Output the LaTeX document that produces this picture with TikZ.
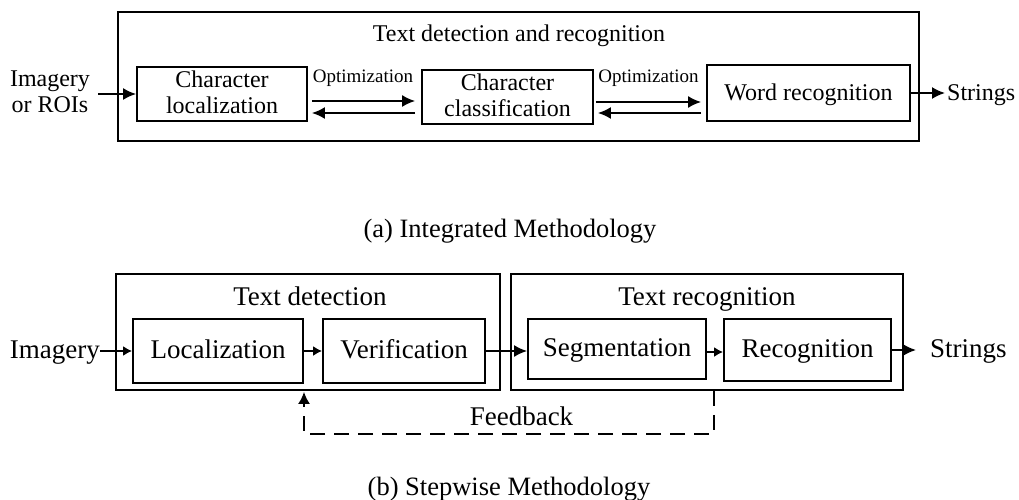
\documentclass[tikz,border=0pt]{standalone}
\usepackage{fontspec}
\setmainfont{Liberation Serif}
\usetikzlibrary{arrows.meta,calc}
\begin{document}
\begin{tikzpicture}[x=1pt,y=-1pt,
  frame/.style={draw, line width=1.8pt, inner sep=0pt},
  topfont/.style={font=\fontsize{24}{26}\selectfont},
  botfont/.style={font=\fontsize{27}{30}\selectfont},
  optfont/.style={font=\fontsize{19}{21}\selectfont},
  capfont/.style={font=\fontsize{26.5}{30}\selectfont},
  botbox/.style={frame, botfont, text height=20pt, text depth=6pt},
  arr/.style={-{Latex[length=13pt,width=12pt]}, line width=1.8pt},
  arrs/.style={-{Latex[length=9pt,width=10pt]}, line width=1.8pt},
  fback/.style={-{Latex[length=12pt,width=12pt]}, line width=1.8pt, dash pattern=on 15pt off 9pt}]
\useasboundingbox (0,0) rectangle (1019,500);

% ---------- (a) integrated pipeline ----------
\node[frame, minimum width=801pt, minimum height=129pt] (outer) at (518.5,76.5) {};
\node[topfont, anchor=base] (title) at (519,42) {Text detection and recognition};
\node[topfont, align=center, inner sep=0pt] (in1) at (50,92) {Imagery\\or ROIs};
\node[frame, topfont, align=center, minimum width=170pt, minimum height=54pt] (cl) at (222,94)
  {Character\\localization\rule[-4pt]{0pt}{4pt}};
\node[frame, topfont, align=center, minimum width=171pt, minimum height=54pt] (cc) at (507.5,97)
  {Character\\classification\rule[-4pt]{0pt}{4pt}};
\node[frame, topfont, minimum width=203pt, minimum height=56pt, text height=18pt, text depth=2pt] (wr) at (808.5,93)
  {Word recognition};
\node[topfont, anchor=base west, inner sep=0pt] (out1) at (947,101) {Strings};
\node[optfont, anchor=base] (opt1) at (363,83) {Optimization};
\node[optfont, anchor=base] (opt2) at (648.5,83) {Optimization};

\draw[arr] (in1.east |- cl.west) ++(8,0) -- (cl.west);
\draw[arr] ($(cl.east)+(4,7)$) -- ($(cc.west)+(-6,4)$);
\draw[arr] ($(cc.west)+(-6,16)$) -- ($(cl.east)+(4,19)$);
\draw[arr] ($(cc.east)+(2,5)$) -- ($(wr.west)+(-5,9)$);
\draw[arr] ($(wr.west)+(-5,20)$) -- ($(cc.east)+(4,16)$);
\draw[arr] (wr.east) -- (wr.east -| out1.west) [shorten >=2pt];

\node[capfont, anchor=base] (capa) at (510,237) {(a) Integrated Methodology};

% ---------- (b) stepwise pipeline ----------
\node[frame, minimum width=384pt, minimum height=116pt] (td) at (308,332) {};
\node[botfont, anchor=base] (tdt) at (310,305) {Text detection};
\node[botbox, minimum width=170pt, minimum height=64pt] (loc) at (218,351) {Localization};
\node[botbox, minimum width=162pt, minimum height=64pt] (ver) at (404,351) {Verification};

\node[frame, minimum width=392pt, minimum height=116pt] (tr) at (707,332) {};
\node[botfont, anchor=base] (trt) at (707,305) {Text recognition};
\node[botbox, minimum width=178pt, minimum height=60pt] (seg) at (617,349) {Segmentation};
\node[botbox, minimum width=167pt, minimum height=62pt] (rec) at (807.5,350) {Recognition};

\node[botfont, anchor=base east, inner sep=0pt] (in2) at (100,358) {Imagery};
\node[botfont, anchor=base west, inner sep=0pt] (out2) at (930,357) {Strings};
\node[botfont, anchor=base] (fb) at (521.5,425) {Feedback};

\draw[arrs] (in2.east |- loc.west) -- (loc.west);
\draw[arrs] (loc.east) -- (ver.west);
\draw[arr] (ver.east) -- (ver.east -| seg.west);
\draw[arrs] ($(seg.east)+(0,3)$) -- ($(rec.west)+(0,2)$);
\draw[arr] (rec.east) -- (rec.east -| out2.west) [shorten >=14pt];
\draw[fback] ($(tr.south)+(7,0)$) -- ++(0,43) -| ($(td.south)+(-4,1)$);

\node[capfont, anchor=base] (capb) at (509,495) {(b) Stepwise Methodology};
\end{tikzpicture}
\end{document}
